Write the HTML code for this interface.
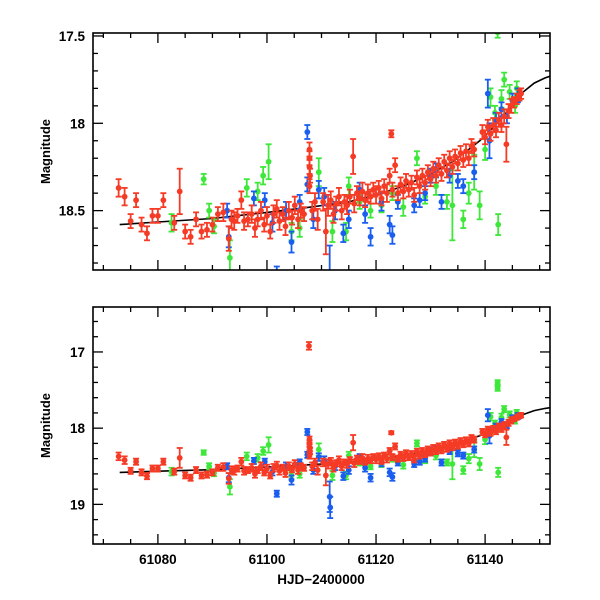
<!DOCTYPE html>
<html><head><meta charset="utf-8"><style>
html,body{margin:0;padding:0;background:#fff;width:600px;height:600px;overflow:hidden}
svg text{font-family:"Liberation Sans",sans-serif;font-weight:bold;fill:#000}
</style></head><body>
<svg id="chart" width="600" height="600" viewBox="0 0 600 600" xmlns="http://www.w3.org/2000/svg">
<defs>
<clipPath id="clipTop"><rect x="93" y="33" width="457" height="237"/></clipPath>
<clipPath id="clipBot"><rect x="93" y="307" width="457" height="237"/></clipPath>
</defs>
</svg>
<script>
const xTicks=[61080,61100,61120,61140];
const topYTicks=[17.5,18,18.5];
const botYTicks=[17,18,19];
const curveX=[61073,61080,61090,61100,61108,61115,61120,61125,61130,61134,61137,61139,61141,61143,61145,61147,61149,61151,61152];
const curveY=[18.58,18.565,18.545,18.51,18.48,18.45,18.41,18.36,18.29,18.22,18.15,18.10,18.04,17.97,17.90,17.82,17.77,17.74,17.73];
const greenPts=[[61082.5,18.57,.05],[61088.4,18.32,.03],[61089.4,18.5,.04],[61090.3,18.59,.04],[61093.2,18.77,.1],[61096.3,18.37,.05],[61098.3,18.39,.05],[61099.3,18.3,.05],[61100.3,18.22,.1],[61104.5,18.62,.05],[61106,18.6,.05],[61109.5,18.28,.08],[61112,18.62,.06],[61114.5,18.62,.05],[61115,18.36,.05],[61117,18.45,.04],[61119,18.5,.04],[61121,18.47,.04],[61123,18.40,.04],[61125,18.48,.05],[61127.5,18.2,.04],[61129,18.42,.04],[61131,18.36,.05],[61133,18.45,.04],[61134,18.47,.2],[61136,18.55,.05],[61137,18.4,.06],[61138,18.28,.1],[61139,18.47,.08],[61140,18.15,.06],[61141,17.85,.05],[61141.8,17.94,.04],[61142.3,17.4,.03],[61142.3,17.48,.03],[61142.4,18.58,.06],[61143,17.86,.05],[61143.5,17.75,.04],[61144.5,17.82,.04],[61145.5,17.9,.04],[61145.8,17.8,.04]];
const bluePts=[[61092.7,18.5,.04],[61093,18.65,.06],[61097.6,18.43,.04],[61099.6,18.44,.04],[61101,18.57,.05],[61101.8,18.86,.04],[61103.5,18.5,.05],[61104.5,18.68,.06],[61106,18.45,.04],[61107.4,18.05,.04],[61107.4,18.35,.04],[61108.5,18.55,.05],[61109.5,18.38,.05],[61110.5,18.42,.05],[61111.6,19.04,.14],[61111.5,18.9,.2],[61112.5,18.5,.05],[61114,18.63,.05],[61115,18.55,.05],[61117,18.38,.04],[61118,18.52,.05],[61119,18.65,.05],[61121,18.45,.05],[61122.5,18.58,.05],[61123,18.64,.05],[61124,18.45,.04],[61127,18.47,.04],[61128,18.44,.04],[61129,18.4,.04],[61130,18.3,.04],[61131,18.27,.04],[61132,18.45,.04],[61133.5,18.3,.04],[61135,18.33,.04],[61136,18.36,.04],[61138,18.28,.04],[61140.5,17.83,.08],[61140.8,18.1,.1],[61142,17.98,.04],[61143,17.92,.04],[61144,17.96,.04],[61145,17.87,.04],[61146,17.84,.04]];
const redPts=[[61072.8,18.37,.05],[61073.9,18.42,.05],[61075,18.56,.04],[61076,18.44,.04],[61077,18.58,.04],[61078,18.63,.04],[61079,18.53,.04],[61080,18.53,.04],[61081,18.44,.04],[61083,18.57,.04],[61084,18.39,.13],[61085,18.62,.04],[61086,18.65,.04],[61087,18.55,.04],[61088,18.62,.04],[61089,18.61,.04],[61090,18.58,.04],[61091,18.52,.04],[61092,18.51,.05],[61093,18.66,.07],[61093.5,18.55,.05],[61094,18.56,.05],[61094.6,18.53,.04],[61095.3,18.44,.05],[61095.8,18.56,.05],[61096.5,18.55,.04],[61097.2,18.52,.05],[61097.8,18.60,.05],[61098.3,18.55,.04],[61098.9,18.50,.05],[61099.5,18.58,.04],[61100,18.53,.05],[61100.6,18.62,.04],[61101.2,18.52,.05],[61101.8,18.49,.05],[61102.3,18.56,.05],[61102.9,18.52,.04],[61103.4,18.59,.05],[61104,18.50,.05],[61104.6,18.54,.04],[61105.1,18.47,.05],[61105.7,18.55,.05],[61106.2,18.50,.04],[61106.8,18.52,.04],[61107.7,16.92,.05],[61107.8,18.15,.04],[61107.8,18.2,.04],[61107.8,18.25,.04],[61107.9,18.30,.04],[61107.8,18.36,.04],[61108.3,18.50,.05],[61108.8,18.45,.05],[61109.3,18.55,.06],[61110.3,18.45,.05],[61110.8,18.62,.13],[61111.2,18.47,.06],[61111.7,18.44,.05],[61112.2,18.52,.05],[61112.7,18.46,.04],[61113.2,18.42,.05],[61113.7,18.50,.05],[61114.2,18.45,.04],[61114.7,18.47,.05],[61115.2,18.42,.04],[61115.8,18.19,.1],[61116,18.46,.05],[61116.5,18.40,.04],[61117,18.43,.04],[61117.5,18.39,.05],[61118,18.44,.04],[61118.5,18.40,.05],[61119,18.42,.04],[61119.5,18.38,.04],[61120,18.41,.05],[61120.5,18.37,.04],[61121,18.43,.04],[61121.5,18.36,.04],[61122,18.40,.05],[61122.5,18.30,.04],[61123,18.38,.04],[61122.8,18.06,.02],[61123.5,18.24,.04],[61124,18.40,.04],[61124.5,18.35,.04],[61125,18.39,.04],[61125.5,18.33,.04],[61126,18.38,.04],[61126.5,18.34,.04],[61127,18.41,.04],[61127.5,18.31,.04],[61128,18.36,.04],[61128.5,18.30,.04],[61129,18.34,.04],[61129.5,18.28,.04],[61130,18.32,.04],[61130.5,18.26,.04],[61131,18.30,.04],[61131.5,18.24,.04],[61132,18.29,.04],[61132.5,18.22,.04],[61133,18.27,.04],[61133.5,18.20,.04],[61134,18.25,.04],[61134.5,18.19,.04],[61135,18.23,.04],[61135.5,18.17,.04],[61136,18.21,.04],[61136.5,18.16,.04],[61137,18.20,.04],[61137.5,18.13,.04],[61138,18.15,.04],[61139.5,18.05,.04],[61140,18.08,.04],[61140.5,18.02,.04],[61141,18.06,.04],[61141.5,18.01,.04],[61142,18.04,.04],[61142.5,17.98,.04],[61143,18.01,.04],[61143.5,17.96,.04],[61143.9,18.12,.1],[61144.3,17.93,.04],[61144.8,17.90,.04],[61145.3,17.88,.03],[61145.8,17.86,.03],[61146.3,17.84,.03],[61146.6,17.83,.03]];

const NS='http://www.w3.org/2000/svg';
const svg=document.getElementById('chart');
const X0=93,X1=550,D0=61068.1,D1=61151.9;
function xs(d){return X0+(d-D0)/(D1-D0)*(X1-X0);}
function mk(tag,attrs,parent){const e=document.createElementNS(NS,tag);for(const k in attrs)e.setAttribute(k,attrs[k]);(parent||svg).appendChild(e);return e;}

const panels=[
 {name:'top',top:33,bot:270,m0:17.483,m1:18.84,yt:topYTicks,minor:0.1,labels:['17.5','18','18.5'],clip:'clipTop'},
 {name:'bottom',top:307,bot:544,m0:16.41,m1:19.52,yt:botYTicks,minor:0.2,labels:['17','18','19'],clip:'clipBot'}
];
panels.forEach(p=>{
 const ys=m=>p.top+(m-p.m0)/(p.m1-p.m0)*(p.bot-p.top);
 const g=mk('g',{});
 
 
 const pg=mk('g',{'clip-path':'url(#'+p.clip+')'},g);
 let d='';curveX.forEach((c,i)=>{d+=(i?'L':'M')+xs(c).toFixed(1)+','+ys(curveY[i]).toFixed(1);});
 const cv=mk('path',{d:d,fill:'none',stroke:'#000','stroke-width':1.6},pg);
 
 
 const series=[[greenPts,'#3ee83a','green'],[bluePts,'#1a5ef0','blue'],[redPts,'#f53b25','red']];
 series.forEach(s=>{
  const sg=mk('g',{stroke:s[1],fill:s[1],'stroke-width':1.8},pg);
  
  
  s[0].forEach(pt=>{
   const x=xs(pt[0]),y=ys(pt[1]),ya=ys(pt[1]-pt[2]),yb=ys(pt[1]+pt[2]);
   mk('line',{x1:x,x2:x,y1:ya,y2:yb},sg);
   mk('line',{x1:x-3,x2:x+3,y1:ya,y2:ya},sg);
   mk('line',{x1:x-3,x2:x+3,y1:yb,y2:yb},sg);
   const c=mk('circle',{cx:x,cy:y,r:2.9,stroke:'none'},sg);
   
   
  });
 });
 const fr=mk('rect',{x:X0,y:p.top,width:X1-X0,height:p.bot-p.top,fill:'none',stroke:'#000','stroke-width':1.6},g);
 
 
 for(let t=61070;t<=61150;t+=5){
  const x=xs(t),L=(t%20===0)?10:5;
  mk('line',{x1:x,x2:x,y1:p.bot,y2:p.bot-L,stroke:'#000','stroke-width':1.3},g);
  mk('line',{x1:x,x2:x,y1:p.top,y2:p.top+L,stroke:'#000','stroke-width':1.3},g);
 }
 if(p.name==='bottom'){
  xTicks.forEach(t=>{
   const tx=mk('text',{x:xs(t),y:p.bot+20,'text-anchor':'middle','font-size':13.5},g);
   tx.textContent=String(t);
   
   
  });
 }
 const n=Math.round((p.m1-16)/p.minor);
 for(let i=0;i<=n;i++){
  const m=16+i*p.minor; if(m<p.m0-1e-6||m>p.m1+1e-6)continue;
  const y=ys(m);
  const major=p.yt.some(v=>Math.abs(v-m)<1e-6);
  const L=major?10:5;
  mk('line',{x1:X0,x2:X0+L,y1:y,y2:y,stroke:'#000','stroke-width':1.3},g);
  mk('line',{x1:X1,x2:X1-L,y1:y,y2:y,stroke:'#000','stroke-width':1.3},g);
 }
 p.yt.forEach((v,i)=>{
  const tx=mk('text',{x:85,y:ys(v)+5,'text-anchor':'end','font-size':13.5},g);
  tx.textContent=p.labels[i];
  
  
 });
 const cy=(p.top+p.bot)/2;
 const yl=mk('text',{x:50,y:cy,'text-anchor':'middle','font-size':13,transform:'rotate(-90 50 '+cy+')'},g);
 yl.textContent='Magnitude';
 
 
});
const xl=mk('text',{x:321,y:584,'text-anchor':'middle','font-size':13.5});
xl.textContent='HJD\u22122400000';


</script>
</body></html>
